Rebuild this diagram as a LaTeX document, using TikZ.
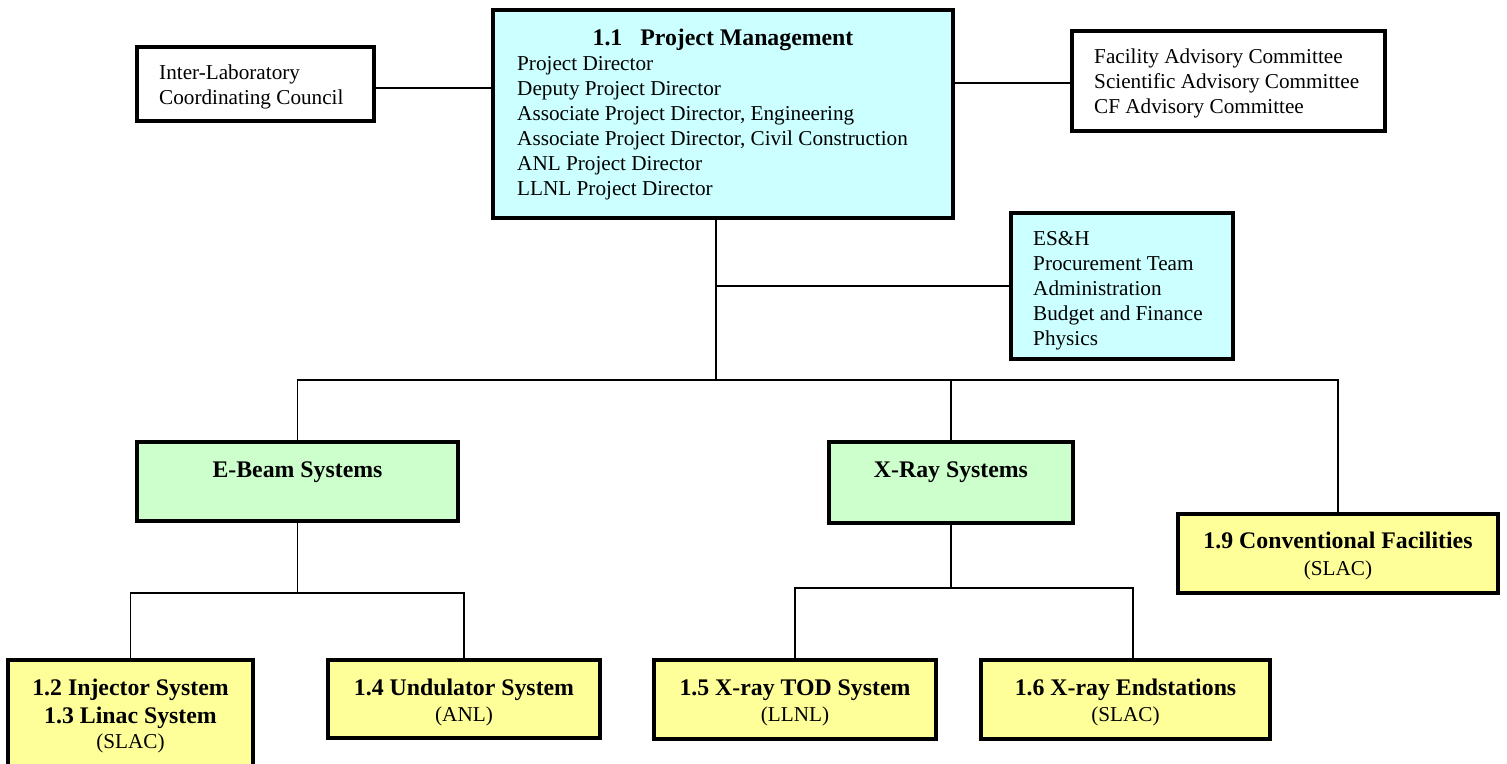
\documentclass[tikz,border=0pt]{standalone}
\usepackage{fontspec}
\setmainfont{Liberation Serif}
\definecolor{pmcyan}{HTML}{CCFFFF}
\definecolor{sysgreen}{HTML}{CCFFCC}
\definecolor{wbsyellow}{HTML}{FFFF99}
\begin{document}
\begin{tikzpicture}[x=1pt,y=-1pt,
  box/.style={draw=black, line width=3.2pt, inner sep=0pt, rectangle},
  conn/.style={draw=black, line width=1.8pt},
  txt/.style={inner sep=0pt, font=\fontsize{21.2}{25}\selectfont},
  btxt/.style={inner sep=0pt, font=\fontsize{23.8}{28}\selectfont\bfseries}]
\useasboundingbox (0,0) rectangle (1507,763);
\clip (0,0) rectangle (1507,763);
\fill[white] (0,0) rectangle (1507,763);

% boxes
\node[box, fill=pmcyan, minimum width=460, minimum height=208] (pm) at (723,114) {};
\node[box, fill=white, minimum width=237, minimum height=74] (il) at (255.5,84) {};
\node[box, fill=white, minimum width=313, minimum height=100] (adv) at (1228.5,81) {};
\node[box, fill=pmcyan, minimum width=222, minimum height=146] (es) at (1122,286) {};
\node[box, fill=sysgreen, minimum width=321, minimum height=79] (eb) at (297.5,481.5) {};
\node[box, fill=sysgreen, minimum width=244, minimum height=81] (xr) at (951,482.5) {};
\node[box, fill=wbsyellow, minimum width=320, minimum height=79] (cf) at (1338,553.5) {};
\node[box, fill=wbsyellow, minimum width=245, minimum height=120] (inj) at (130.5,720) {};
\node[box, fill=wbsyellow, minimum width=272, minimum height=78] (und) at (464,699) {};
\node[box, fill=wbsyellow, minimum width=282, minimum height=79] (tod) at (795,699.5) {};
\node[box, fill=wbsyellow, minimum width=289, minimum height=79] (endst) at (1125.5,699.5) {};

% connectors
\coordinate (hub) at (716,380);
\coordinate (esj) at (716,286);
\coordinate (ilj) at (0,88);
\coordinate (advj) at (0,83);
\coordinate (ebj) at (0,593);
\coordinate (xrj) at (0,588);
\coordinate (endj) at ([xshift=7.5]endst.north);
\draw[conn] (pm.south -| hub) -- (hub);
\draw[conn] (esj) -- (esj -| es.west);
\draw[conn] (eb.north) -- (eb.north |- hub) -- (cf.north |- hub) -- (cf.north);
\draw[conn] (xr.north) -- (xr.north |- hub);
\draw[conn] (il.east |- ilj) -- (pm.west |- ilj);
\draw[conn] (pm.east |- advj) -- (adv.west |- advj);
\draw[conn] (eb.south) -- (eb.south |- ebj);
\draw[conn] (inj.north) -- (inj.north |- ebj) -- (und.north |- ebj) -- (und.north);
\draw[conn] (xr.south) -- (xr.south |- xrj);
\draw[conn] (tod.north) -- (tod.north |- xrj) -- (endj |- xrj) -- (endj);

% texts
\node[btxt, anchor=base] (pmt) at (723,45) {1.1\hspace{18pt}Project Management};
\foreach \t [count=\i] in {Project Director, Deputy Project Director, {Associate Project Director, Engineering}, {Associate Project Director, Civil Construction}, ANL Project Director, LLNL Project Director}
  \node[txt, anchor=base west] (pm\i) at (517,45+25*\i) {\t};
\node[txt, anchor=base west] (il1) at (159,79) {Inter-Laboratory};
\node[txt, anchor=base west] (il2) at (159,104) {Coordinating Council};
\foreach \t [count=\i] in {Facility Advisory Committee, Scientific Advisory Committee, CF Advisory Committee}
  \node[txt, anchor=base west] (adv\i) at (1094,38+25*\i) {\t};
\foreach \t [count=\i] in {ES\&H, Procurement Team, Administration, Budget and Finance, Physics}
  \node[txt, anchor=base west] (es\i) at (1033,220+25*\i) {\t};
\node[btxt, anchor=base] (ebt) at (297.5,477) {E-Beam Systems};
\node[btxt, anchor=base] (xrt) at (951,477) {X-Ray Systems};
\node[btxt, anchor=base] (cft) at (1338,548) {1.9 Conventional Facilities};
\node[txt, anchor=base] (cfl) at (1338,575) {(SLAC)};
\node[btxt, anchor=base] (inj1) at (130.5,695) {1.2 Injector System};
\node[btxt, anchor=base] (inj2) at (130.5,723) {1.3 Linac System};
\node[txt, anchor=base] (inj3) at (130.5,748) {(SLAC)};
\node[btxt, anchor=base] (undt) at (464,695) {1.4 Undulator System};
\node[txt, anchor=base] (undl) at (464,721) {(ANL)};
\node[btxt, anchor=base] (todt) at (795,695) {1.5 X-ray TOD System};
\node[txt, anchor=base] (todl) at (795,721) {(LLNL)};
\node[btxt, anchor=base] (endt) at (1125.5,695) {1.6 X-ray Endstations};
\node[txt, anchor=base] (endl) at (1125.5,721) {(SLAC)};
\end{tikzpicture}
\end{document}
